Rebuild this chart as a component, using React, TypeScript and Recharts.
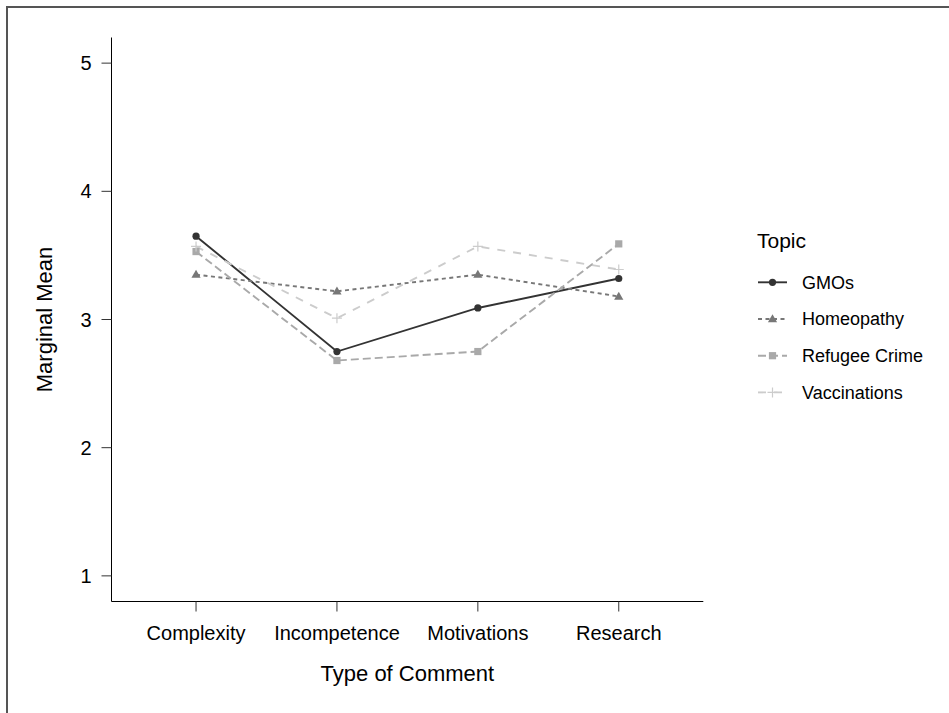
import React from 'react';
import { LineChart, Line, XAxis, YAxis, Legend } from 'recharts';

const categories = ['Complexity', 'Incompetence', 'Motivations', 'Research'];
const topics = ['GMOs', 'Homeopathy', 'Refugee Crime', 'Vaccinations'];
const gmos = [3.65, 2.75, 3.09, 3.32];
const homeopathy = [3.35, 3.22, 3.35, 3.18];
const refugeeCrime = [3.53, 2.68, 2.75, 3.59];
const vaccinations = [3.57, 3.01, 3.57, 3.39];
const yTicks = [1, 2, 3, 4, 5];
const xTicks = [1, 2, 3, 4];

const seriesValues = [gmos, homeopathy, refugeeCrime, vaccinations];

const data = categories.map((c, i) => {
  const row: any = { x: i + 1, category: c };
  topics.forEach((t, j) => {
    row[t] = seriesValues[j][i];
  });
  return row;
});

const FONT = '"Liberation Sans", Arial, Helvetica, sans-serif';

const colors = ['#333333', '#777777', '#a9a9a9', '#cccccc'];
const dashes = [undefined, '4 3.5', '8 4', '8 8'];
const shapes = ['circle', 'triangle', 'square', 'plus'];

const drawMarker = (shape: string, color: string, cx: number, cy: number, key?: string) => {
  if (shape === 'circle') return <circle key={key} cx={cx} cy={cy} r={3.6} fill={color} />;
  if (shape === 'triangle')
    return (
      <polygon
        key={key}
        points={`${cx},${cy - 4.8} ${cx - 4.6},${cy + 3.2} ${cx + 4.6},${cy + 3.2}`}
        fill={color}
      />
    );
  if (shape === 'square')
    return <rect key={key} x={cx - 3.6} y={cy - 3.6} width={7.2} height={7.2} fill={color} />;
  return (
    <path
      key={key}
      d={`M${cx - 5},${cy}H${cx + 5}M${cx},${cy - 5}V${cy + 5}`}
      stroke={color}
      strokeWidth={1.2}
      fill="none"
    />
  );
};

const makeDot = (j: number) => (props: any) => {
  const { cx, cy, index } = props;
  if (cx == null || cy == null) return <g key={`d-${j}-${index}`} />;
  return drawMarker(shapes[j], colors[j], cx, cy, `d-${j}-${index}`);
};

const renderLegend = () => (
  <svg width={199} height={190} style={{ display: 'block', overflow: 'visible' }}>
    <text x={7} y={28.3} fontSize={21} fontFamily={FONT} fill="#000">
      Topic
    </text>
    {topics.map((t, j) => {
      const cy = 62.3 + 36.7 * j;
      return (
        <g key={t}>
          <line
            x1={8}
            x2={37}
            y1={cy}
            y2={cy}
            stroke={colors[j]}
            strokeWidth={1.9}
            strokeDasharray={dashes[j]}
          />
          {drawMarker(shapes[j], colors[j], 22.5, cy)}
          <text x={52} y={cy + 6.4} fontSize={18} fontFamily={FONT} fill="#000">
            {t}
          </text>
        </g>
      );
    })}
  </svg>
);

const XTitle = (props: any) => {
  const vb = props.viewBox || { x: 111.5, width: 591.8 };
  return (
    <text x={vb.x + vb.width / 2} y={681} textAnchor="middle" fontSize={22} fontFamily={FONT} fill="#000">
      Type of Comment
    </text>
  );
};

const YTitle = (props: any) => {
  const vb = props.viewBox || { y: 37.5, height: 564 };
  const cy = vb.y + vb.height / 2;
  return (
    <text
      x={51.7}
      y={cy}
      transform={`rotate(-90, 51.7, ${cy})`}
      textAnchor="middle"
      fontSize={22}
      fontFamily={FONT}
      fill="#000"
    >
      Marginal Mean
    </text>
  );
};

export default function App() {
  return (
    <div style={{ position: 'absolute', left: 0, top: 0, width: 949, height: 713, background: '#fff', overflow: 'hidden' }}>
      <div
        style={{
          position: 'absolute',
          left: 6,
          top: 6,
          width: 960,
          height: 720,
          borderLeft: '2px solid #555',
          borderTop: '2px solid #555',
          boxSizing: 'border-box',
        }}
      />
      <div style={{ position: 'absolute', left: 0, top: 0 }}>
        <LineChart width={949} height={713} data={data} margin={{ top: 37.5, right: 245.7, bottom: 51.5, left: 51.5 }}>
          <XAxis
            dataKey="x"
            type="number"
            domain={[0.4, 4.6]}
            ticks={xTicks}
            allowDataOverflow
            tickFormatter={(v: number) => categories[v - 1]}
            height={60}
            tickSize={10}
            tickMargin={14}
            axisLine={{ stroke: '#000', strokeWidth: 1 }}
            tickLine={{ stroke: '#333', strokeWidth: 1 }}
            tick={{ fontSize: 20, fontFamily: FONT, fill: '#000' }}
            label={{ value: 'Type of Comment', content: XTitle }}
          />
          <YAxis
            type="number"
            domain={[0.8, 5.2]}
            ticks={yTicks}
            allowDataOverflow
            width={60}
            tickSize={10}
            tickMargin={10}
            axisLine={{ stroke: '#000', strokeWidth: 1 }}
            tickLine={{ stroke: '#333', strokeWidth: 1 }}
            tick={{ fontSize: 20, fontFamily: FONT, fill: '#000' }}
            label={{ value: 'Marginal Mean', content: YTitle }}
          />
          <Legend
            layout="vertical"
            align="center"
            verticalAlign="middle"
            content={renderLegend}
            wrapperStyle={{ left: 750, top: 220, width: 199, height: 190 }}
          />
          {topics.map((t, j) => (
            <Line
              key={`line-${t}`}
              dataKey={t}
              type="linear"
              stroke={colors[j]}
              strokeWidth={1.9}
              strokeDasharray={dashes[j]}
              dot={false}
              activeDot={false}
              isAnimationActive={false}
            />
          ))}
          {topics.map((t, j) => (
            <Line
              key={`pts-${t}`}
              dataKey={t}
              type="linear"
              stroke="none"
              dot={makeDot(j)}
              activeDot={false}
              legendType="none"
              isAnimationActive={false}
            />
          ))}
        </LineChart>
      </div>
    </div>
  );
}
